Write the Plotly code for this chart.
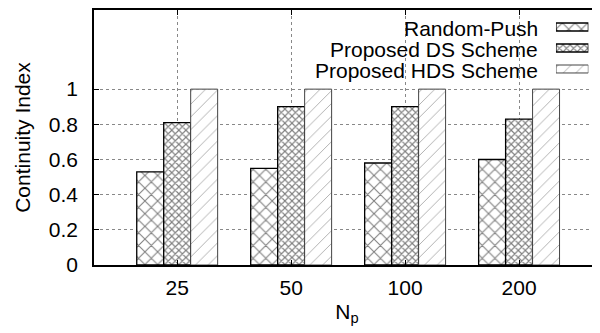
import plotly.graph_objects as go

categories = ["25", "50", "100", "200"]
random_push = [0.53, 0.55, 0.58, 0.60]
ds_scheme = [0.81, 0.90, 0.90, 0.83]
hds_scheme = [1.0, 1.0, 1.0, 1.0]
series_names = ["Random-Push", "Proposed DS Scheme", "Proposed HDS Scheme"]
y_ticks = [0, 0.2, 0.4, 0.6, 0.8, 1]
y_tick_labels = ["0", "0.2", "0.4", "0.6", "0.8", "1"]
swatch_len = [1]

FONT = "Liberation Sans, Arial, sans-serif"
FS = 21

styles = [
    dict(pattern=dict(shape="x", size=9, solidity=0.22, fgcolor="black", bgcolor="white"),
         line=dict(color="black", width=1.3)),
    dict(pattern=dict(shape="x", size=5, solidity=0.4, fgcolor="black", bgcolor="white"),
         line=dict(color="black", width=1.3)),
    dict(pattern=dict(shape="/", size=9, solidity=0.1, fgcolor="#555", bgcolor="white"),
         line=dict(color="#444", width=1)),
]

fig = go.Figure()
for name, vals, st in zip(series_names, [random_push, ds_scheme, hds_scheme], styles):
    fig.add_trace(go.Bar(
        x=categories, y=vals, name=name, showlegend=False,
        xaxis="x", yaxis="y",
        marker=dict(color="white", pattern=st["pattern"], line=st["line"]),
    ))

# key: right-aligned text with patterned swatches to its right
text_y = [0.927, 0.845, 0.763]
for name, ty, st in zip(series_names, text_y, styles):
    fig.add_annotation(x=0.882, y=ty, xref="paper", yref="paper", text=name,
                       showarrow=False, xanchor="right", yanchor="middle",
                       font=dict(family=FONT, size=21, color="black"))
    fig.add_trace(go.Bar(
        x=swatch_len, y=[name], orientation="h", xaxis="x2", yaxis="y2",
        width=0.38, offset=-0.19, showlegend=False, hoverinfo="skip",
        marker=dict(color="white", pattern=st["pattern"], line=st["line"]),
    ))

fig.update_layout(
    width=600, height=333,
    margin=dict(l=86, r=8, t=2, b=76),
    paper_bgcolor="white", plot_bgcolor="white",
    barmode="group", bargap=0.29, bargroupgap=0,
    font=dict(family=FONT, size=FS, color="black"),
    showlegend=False,
    xaxis=dict(
        domain=[0, 1], anchor="y",
        range=[-0.73, 3.71], showline=True, linecolor="black", linewidth=1.5,
        mirror="ticks", ticks="inside", ticklen=5, tickcolor="black",
        showgrid=True, griddash="dot", gridcolor="#888", gridwidth=1,
        ticklabelstandoff=3, automargin=False,
        title=dict(text="N<sub>p</sub>", standoff=6, font=dict(size=FS)),
        tickfont=dict(size=FS),
    ),
    yaxis=dict(
        domain=[0, 1], anchor="x",
        range=[0, 1.45], tickvals=y_ticks, ticktext=y_tick_labels,
        showline=True, linecolor="black", linewidth=1.5, mirror=False,
        ticks="inside", ticklen=5, tickcolor="black",
        showgrid=True, griddash="dot", gridcolor="#888", gridwidth=1,
        zeroline=False, ticklabelstandoff=10, automargin=False,
        title=dict(text="Continuity Index", standoff=12, font=dict(size=FS)),
        tickfont=dict(size=FS),
    ),
    xaxis2=dict(domain=[0.913, 0.977], range=[0, 1], anchor="y2", visible=False,
                fixedrange=True),
    yaxis2=dict(domain=[0.7275, 0.9745], range=[-0.5, 2.5], anchor="x2",
                visible=False, type="category",
                categoryorder="array", categoryarray=series_names[::-1],
                fixedrange=True),
)

fig.write_html("out.html")
